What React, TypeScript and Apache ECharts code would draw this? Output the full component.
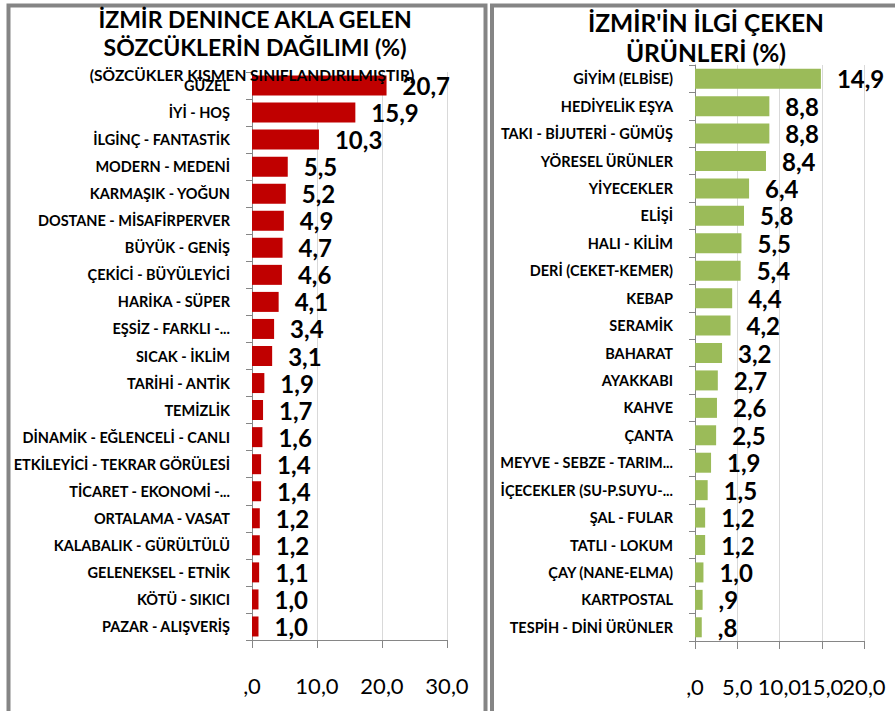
import React, { useEffect, useRef } from "react";
import * as echarts from "echarts";

const wordCategories = [
  "GÜZEL",
  "İYİ - HOŞ",
  "İLGİNÇ - FANTASTİK",
  "MODERN - MEDENİ",
  "KARMAŞIK - YOĞUN",
  "DOSTANE - MİSAFİRPERVER",
  "BÜYÜK - GENİŞ",
  "ÇEKİCİ - BÜYÜLEYİCİ",
  "HARİKA - SÜPER",
  "EŞSİZ - FARKLI -...",
  "SICAK - İKLİM",
  "TARİHİ - ANTİK",
  "TEMİZLİK",
  "DİNAMİK - EĞLENCELİ - CANLI",
  "ETKİLEYİCİ - TEKRAR GÖRÜLESİ",
  "TİCARET - EKONOMİ -...",
  "ORTALAMA - VASAT",
  "KALABALIK - GÜRÜLTÜLÜ",
  "GELENEKSEL - ETNİK",
  "KÖTÜ - SIKICI",
  "PAZAR - ALIŞVERİŞ",
];
const wordValues = [20.7, 15.9, 10.3, 5.5, 5.2, 4.9, 4.7, 4.6, 4.1, 3.4, 3.1, 1.9, 1.7, 1.6, 1.4, 1.4, 1.2, 1.2, 1.1, 1.0, 1.0];

const productCategories = [
  "GİYİM (ELBİSE)",
  "HEDİYELİK EŞYA",
  "TAKI - BİJUTERİ - GÜMÜŞ",
  "YÖRESEL ÜRÜNLER",
  "YİYECEKLER",
  "ELİŞİ",
  "HALI - KİLİM",
  "DERİ (CEKET-KEMER)",
  "KEBAP",
  "SERAMİK",
  "BAHARAT",
  "AYAKKABI",
  "KAHVE",
  "ÇANTA",
  "MEYVE - SEBZE - TARIM...",
  "İÇECEKLER (SU-P.SUYU-...",
  "ŞAL - FULAR",
  "TATLI - LOKUM",
  "ÇAY (NANE-ELMA)",
  "KARTPOSTAL",
  "TESPİH - DİNİ ÜRÜNLER",
];
const productValues = [14.9, 8.8, 8.8, 8.4, 6.4, 5.8, 5.5, 5.4, 4.4, 4.2, 3.2, 2.7, 2.6, 2.5, 1.9, 1.5, 1.2, 1.2, 1.0, 0.9, 0.8];

const wordAxis = { min: 0, max: 30, interval: 10 };
const productAxis = { min: 0, max: 20, interval: 5 };
const productTicksA = [0, 10, 20];
const productTicksB = [5, 15];

const leftTitle = ["İZMİR DENINCE AKLA GELEN", "SÖZCÜKLERİN DAĞILIMI (%)"];
const leftSubtitle = "(SÖZCÜKLER KISMEN SINIFLANDIRILMIŞTIR)";
const rightTitle = ["İZMİR'İN İLGİ ÇEKEN", "ÜRÜNLERİ (%)"];

const FONT = "Lato, 'Noto Sans', sans-serif";

function fmt(v: number): string {
  const s = Number(v).toFixed(1).replace(".", ",");
  return s.startsWith("0") ? s.slice(1) : s;
}

export default function App() {
  const ref = useRef<HTMLDivElement>(null);
  useEffect(() => {
    if (!ref.current) return;
    const chart = echarts.init(ref.current, undefined, { renderer: "svg" });
    const axisGray = "#868686";
    const catAxis = (idx: number, data: string[]) => ({
      type: "category",
      gridIndex: idx,
      data,
      inverse: true,
      axisLine: { show: true, lineStyle: { color: axisGray, width: 1 } },
      axisTick: { show: true, length: 6, lineStyle: { color: axisGray } },
      axisLabel: {
        margin: 22,
        color: "#000",
        fontFamily: FONT,
        fontWeight: "bold",
        fontSize: 14.5,
        interval: 0,
      },
    });
    const labelStyle = {
      margin: 34,
      color: "#000",
      fontFamily: FONT,
      fontSize: 22,
      hideOverlap: false,
      showMinLabel: true,
      showMaxLabel: true,
      formatter: (v: number) => fmt(v),
    };
    const valAxis = (
      idx: number,
      cfg: { min: number; max: number; interval: number },
      customValues?: number[]
    ) => ({
      type: "value",
      gridIndex: idx,
      position: "bottom",
      min: cfg.min,
      max: cfg.max,
      interval: cfg.interval,
      axisLine: { show: true, lineStyle: { color: axisGray, width: 1 } },
      axisTick: { show: true, length: 8, lineStyle: { color: axisGray } },
      splitLine: { show: true, lineStyle: { color: "#D9D9D9", width: 1 } },
      axisLabel: customValues ? { ...labelStyle, customValues } : labelStyle,
    });
    const labelOnlyAxis = (
      idx: number,
      cfg: { min: number; max: number; interval: number },
      customValues: number[]
    ) => ({
      type: "value",
      gridIndex: idx,
      position: "bottom",
      offset: 0,
      min: cfg.min,
      max: cfg.max,
      interval: cfg.interval,
      axisLine: { show: false },
      axisTick: { show: false },
      splitLine: { show: false },
      axisLabel: { ...labelStyle, customValues },
    });
    const barLabel = {
      show: true,
      position: "right",
      distance: 16,
      color: "#000",
      fontFamily: FONT,
      fontWeight: "bold",
      fontSize: 24,
      formatter: (p: any) => fmt(p.value),
    };
    const titleText = (x: number, y: number, text: string, size: number) => ({
      type: "text",
      x,
      y,
      z: 100,
      style: {
        text,
        fill: "#000",
        font: `bold ${size}px ${FONT}`,
        textAlign: "center",
        textVerticalAlign: "middle",
      },
    });
    chart.setOption({
      animation: false,
      backgroundColor: "#fff",
      grid: [
        { left: 252, top: 72, width: 195, height: 568 },
        { left: 695, top: 65, width: 169, height: 576 },
      ],
      xAxis: [
        valAxis(0, wordAxis),
        valAxis(1, productAxis, productTicksA),
        labelOnlyAxis(1, productAxis, productTicksB),
      ],
      yAxis: [catAxis(0, wordCategories), catAxis(1, productCategories)],
      series: [
        {
          type: "bar",
          xAxisIndex: 0,
          yAxisIndex: 0,
          data: wordValues,
          barWidth: 20,
          itemStyle: { color: "#C00000" },
          label: barLabel,
        },
        {
          type: "bar",
          xAxisIndex: 1,
          yAxisIndex: 1,
          data: productValues,
          barWidth: 20,
          itemStyle: { color: "#9BBB59" },
          label: barLabel,
        },
      ],
      graphic: [
        {
          type: "rect",
          z: 90,
          shape: { x: 8.5, y: 5.5, width: 477, height: 720 },
          style: { fill: "none", stroke: "#858585", lineWidth: 4 },
        },
        {
          type: "rect",
          z: 90,
          shape: { x: 492, y: 5.5, width: 410, height: 720 },
          style: { fill: "none", stroke: "#858585", lineWidth: 4 },
        },
        titleText(255, 19, leftTitle[0], 23),
        titleText(255, 47, leftTitle[1], 23),
        titleText(252, 75, leftSubtitle, 15.5),
        titleText(706, 22, rightTitle[0], 24.5),
        titleText(706, 52, rightTitle[1], 24.5),
      ],
    });
    return () => chart.dispose();
  }, []);
  return (
    <div
      ref={ref}
      style={{ position: "fixed", left: 0, top: 0, width: 895, height: 711, background: "#fff" }}
    />
  );
}
